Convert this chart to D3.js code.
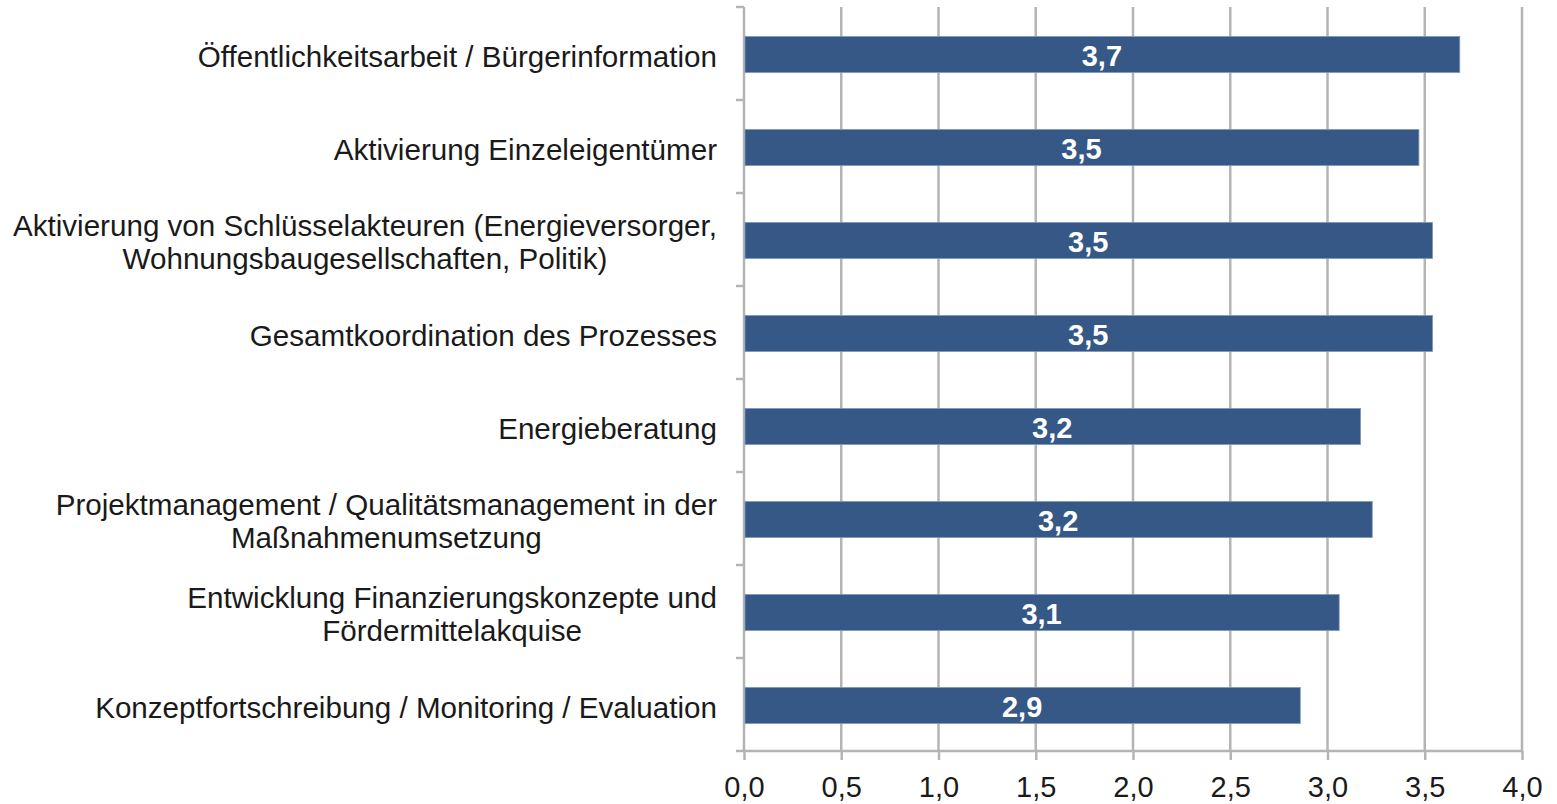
<!DOCTYPE html>
<html>
<head>
<meta charset="utf-8">
<script src="https://cdn.jsdelivr.net/npm/d3@7"></script>
<style>
  body { margin: 0; background: #fff; }
  text { font-family: "Liberation Sans", Arial, Helvetica, sans-serif; }
</style>
</head>
<body>
<div id="chart"></div>
<script>
// Kategorien (Zeilen bei "\n" umgebrochen) und Mittelwerte
const categories = [
  "Öffentlichkeitsarbeit / Bürgerinformation",
  "Aktivierung Einzeleigentümer",
  "Aktivierung von Schlüsselakteuren (Energieversorger,\nWohnungsbaugesellschaften, Politik)",
  "Gesamtkoordination des Prozesses",
  "Energieberatung",
  "Projektmanagement / Qualitätsmanagement in der\nMaßnahmenumsetzung",
  "Entwicklung Finanzierungskonzepte und\nFördermittelakquise",
  "Konzeptfortschreibung / Monitoring / Evaluation"
];
const values = [3.68, 3.47, 3.54, 3.54, 3.17, 3.23, 3.06, 2.86];
const xTicks = [0, 0.5, 1, 1.5, 2, 2.5, 3, 3.5, 4];

const width = 1557, height = 804;
const plotLeft = 744, plotRight = 1522, plotTop = 7, plotBottom = 751;
const gridColor = "#b4b4b4";
const barColor = "#365886";
const fmt = v => d3.format(".1f")(v).replace(".", ",");

const svg = d3.select("#chart").append("svg")
  .attr("width", width)
  .attr("height", height);

const x = d3.scaleLinear().domain([0, 4]).range([plotLeft, plotRight]);
const y = d3.scaleBand().domain(categories).range([plotTop, plotBottom])
  .paddingInner(0.613).paddingOuter(0.3065);

// Gitterlinien
svg.append("g")
  .selectAll("line")
  .data(xTicks.filter(d => d > 0))
  .join("line")
  .attr("x1", d => x(d)).attr("x2", d => x(d))
  .attr("y1", plotTop).attr("y2", plotBottom)
  .attr("stroke", gridColor)
  .attr("stroke-width", 2.5);

// X-Achse unten
const xAxis = svg.append("g")
  .attr("transform", `translate(0,${plotBottom})`)
  .call(d3.axisBottom(x).tickValues(xTicks).tickSize(9).tickPadding(10).tickFormat(fmt));
xAxis.attr("font-family", null);
xAxis.select(".domain").attr("stroke", gridColor).attr("stroke-width", 2.5)
  .attr("d", `M${plotLeft},0H${plotRight}`);
xAxis.selectAll(".tick line").attr("stroke", gridColor).attr("stroke-width", 2.5);
xAxis.selectAll(".tick text")
  .attr("font-size", 29)
  .attr("fill", "#1a1a1a")
  .attr("dy", null)
  .attr("y", 46);

// Y-Achse mit Markierungen zwischen den Kategorien
const step = y.step();
const boundaries = d3.range(categories.length + 1).map(i => plotTop + i * step);
svg.append("line")
  .attr("x1", plotLeft).attr("x2", plotLeft)
  .attr("y1", plotTop).attr("y2", plotBottom)
  .attr("stroke", gridColor).attr("stroke-width", 2.5);
svg.append("g")
  .selectAll("line")
  .data(boundaries)
  .join("line")
  .attr("x1", plotLeft - 8).attr("x2", plotLeft)
  .attr("y1", d => d).attr("y2", d => d)
  .attr("stroke", gridColor).attr("stroke-width", 2.5);

// Balken
svg.append("g")
  .selectAll("rect")
  .data(values)
  .join("rect")
  .attr("x", x(0) + 1)
  .attr("y", (d, i) => y(categories[i]) + 1)
  .attr("width", d => x(d) - x(0) - 1)
  .attr("height", y.bandwidth())
  .attr("fill", barColor)
  .attr("stroke", "#7d97bb")
  .attr("stroke-width", 0.8);

// Werte in den Balken
svg.append("g")
  .selectAll("text")
  .data(values)
  .join("text")
  .attr("x", d => (x(0) + x(d)) / 2)
  .attr("y", (d, i) => y(categories[i]) + y.bandwidth() / 2 + 12)
  .attr("text-anchor", "middle")
  .attr("font-size", 29)
  .attr("font-weight", "bold")
  .attr("fill", "#fff")
  .text(fmt);

// Kategorienbeschriftung: Block rechtsbündig, Zeilen zentriert
const labelRight = 717;
const lineH = 33;
categories.forEach(cat => {
  const lines = cat.split("\n");
  const c = y(cat) + y.bandwidth() / 2;
  const g = svg.append("g");
  const texts = lines.map((ln, j) => g.append("text")
    .attr("font-size", 29.6)
    .attr("fill", "#1a1a1a")
    .attr("text-anchor", "middle")
    .attr("y", c + 13 + (j - (lines.length - 1) / 2) * lineH)
    .text(ln));
  const maxW = d3.max(texts, t => t.node().getComputedTextLength());
  texts.forEach(t => t.attr("x", labelRight - maxW / 2));
});
</script>
</body>
</html>
